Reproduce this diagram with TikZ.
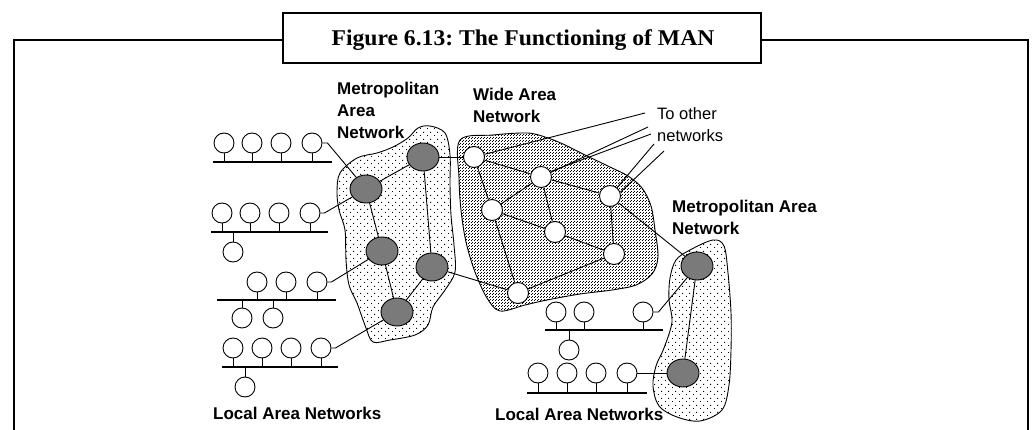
\documentclass[tikz,border=0pt]{standalone}
\usepackage{fontspec}
\newfontfamily\lblfont{Liberation Sans}
\newfontfamily\titlefont{Liberation Serif}[FakeStretch=1.05]
\usetikzlibrary{shapes.geometric,patterns.meta}
\frenchspacing
\tikzdeclarepattern{
  name=mandots, type=uncolored,
  bounding box={(0pt,0pt) and (7pt,7pt)},
  tile size={(7pt,7pt)},
  code={\fill (0pt,0pt) rectangle (1.1pt,1.1pt); \fill (3.5pt,3.5pt) rectangle (4.6pt,4.6pt);}
}
\tikzdeclarepattern{
  name=wandots, type=uncolored,
  bounding box={(0pt,0pt) and (3pt,3pt)},
  tile size={(3pt,3pt)},
  code={\fill (0pt,0pt) rectangle (1pt,1pt); \fill (1.5pt,1.5pt) rectangle (2.5pt,2.5pt);}
}
\begin{document}
\begin{tikzpicture}[x=1pt,y=-1pt,
  frameline/.style={line width=2.3pt},
  titlebox/.style={draw,line width=2.3pt,minimum width=478pt,minimum height=50pt,inner sep=0pt},
  titletxt/.style={font={\titlefont\bfseries\fontsize{22.5}{26}\selectfont},anchor=base,inner sep=0pt},
  lanpc/.style={circle,draw,fill=white,minimum size=20pt,inner sep=0pt,line width=0.9pt},
  wannode/.style={circle,draw,fill=white,minimum size=21pt,inner sep=0pt,line width=0.9pt},
  mannode/.style={ellipse,draw,fill=black!52,minimum width=32pt,minimum height=28pt,inner sep=0pt,line width=0.9pt},
  link/.style={line width=0.9pt},
  bus/.style={line width=2pt},
  lbl/.style={font={\lblfont\bfseries\fontsize{17}{22}\selectfont},anchor=base west,inner sep=0pt},
  lblreg/.style={font={\lblfont\fontsize{16.5}{22}\selectfont},anchor=base west,inner sep=0pt},
  manblob/.style={draw,line width=0.9pt,pattern=mandots},
  wanblob/.style={draw,line width=0.9pt,pattern=wandots}]
\useasboundingbox (0,0) rectangle (1032,430);

% frame and title
\node[titlebox] (title) at (522,38) {};
\node[titletxt] (titletext) at (523,46) {Figure 6.13: The Functioning of MAN};
\draw[frameline] (14,432) -- (14,40) -- (title.west |- 0,40);
\draw[frameline] (title.east |- 0,40) -- (1028,40) -- (1028,432);

% blobs
\draw[manblob] plot[smooth cycle,tension=0.55] coordinates {
  (430,126) (445,133) (450,155) (450,185) (451,215) (454,245) (455,272)
  (445,290) (433,307) (428,325) (415,335) (390,340) (373,342) (366,328)
  (357,303) (349,285) (346,260) (345,230) (339,210) (337,192) (340,173)
  (357,158) (377,153) (393,147) (408,138) (418,128)};
\draw[wanblob] plot[smooth cycle,tension=0.55] coordinates {
  (460,140) (493,135) (527,133) (545,137) (563,144) (585,155) (610,167)
  (628,176) (642,188) (651,206) (655,230) (658,257) (652,274) (636,285)
  (612,290) (580,294) (547,300) (525,305) (500,311) (487,298) (475,272)
  (466,242) (461,210) (459,178)};
\draw[manblob] plot[smooth cycle,tension=0.55] coordinates {
  (713,240) (724,246) (728,273) (731,313) (731,350) (729,385) (722,410)
  (700,421) (677,417) (659,406) (653,386) (656,366) (664,348) (672,322)
  (669,300) (670,278) (676,260) (690,250)};

% labels
\node[lbl] (m1a) at (337,95) {Metropolitan};
\node[lbl] (m1b) at (337,117) {Area};
\node[lbl] (m1c) at (337,139) {Network};
\node[lbl] (w1a) at (473,101) {Wide Area};
\node[lbl] (w1b) at (473,123) {Network};
\node[lblreg] (toa) at (657,120) {To other};
\node[lblreg] (tob) at (657,142) {networks};
\node[lbl] (m2a) at (672,213) {Metropolitan Area};
\node[lbl] (m2b) at (672,235) {Network};
\node[lbl] (lan1txt) at (213,419) {Local Area Networks};
\node[lbl] (lan2txt) at (495,420) {Local Area Networks};

% MAN nodes
\node[mannode] (A) at (366,189) {};
\node[mannode] (B) at (423,157) {};
\node[mannode] (C) at (382,251) {};
\node[mannode] (D) at (432,267) {};
\node[mannode] (E) at (397,312) {};
\node[mannode] (F) at (697,266) {};
\node[mannode] (G) at (683,373) {};

% WAN nodes
\node[wannode] (W1) at (474,157) {};
\node[wannode] (W2) at (541,177) {};
\node[wannode] (W3) at (492,210) {};
\node[wannode] (W4) at (610,196) {};
\node[wannode] (W5) at (555,232) {};
\node[wannode] (W6) at (614,254) {};
\node[wannode] (W7) at (518,293) {};

% links
\draw[link] (A) -- (B);
\draw[link] (A) -- (C);
\draw[link] (C) -- (E);
\draw[link] (B) -- (D);
\draw[link] (D) -- (E);
\draw[link] (B) -- (W1);
\draw[link] (D) -- (W7);
\draw[link] (W1) -- (W2);
\draw[link] (W1) -- (W3);
\draw[link] (W2) -- (W3);
\draw[link] (W2) -- (W4);
\draw[link] (W2) -- (W5);
\draw[link] (W3) -- (W5);
\draw[link] (W3) -- (W7);
\draw[link] (W4) -- (W6);
\draw[link] (W5) -- (W6);
\draw[link] (W6) -- (W7);
\draw[link] (W4) -- (F);
\draw[link] (F) -- (G);

% to other networks
\coordinate (t1) at (645,113);
\coordinate (t2) at (648,127);
\coordinate (t3) at (651,134);
\coordinate (t4) at (654,144);
\coordinate (t5) at (664,151);
\draw[link] (W1) -- (t1);
\draw[link] (W2) -- (t2);
\draw[link] (W2.30) -- (t3);
\draw[link] (W4) -- (t4);
\draw[link] (W4.20) -- (t5);

% LAN 1
\node[lanpc] (l11) at (224,143) {};
\node[lanpc] (l12) at (252,143) {};
\node[lanpc] (l13) at (281,143) {};
\node[lanpc] (l14) at (312,143) {};
\coordinate (b1l) at (213,162);
\coordinate (b1r) at (332,162);
\draw[bus] (b1l) -- (b1r);
\foreach \n in {l11,l12,l13,l14} \draw[link] (\n) -- (\n |- b1l);
\draw[link] (l14.east) -- ++(5,0) -- (A);

% LAN 2
\node[lanpc] (l21) at (222,213) {};
\node[lanpc] (l22) at (250,213) {};
\node[lanpc] (l23) at (279,213) {};
\node[lanpc] (l24) at (310,213) {};
\node[lanpc] (l25) at (233,252) {};
\coordinate (b2l) at (211,232);
\coordinate (b2r) at (328,232);
\draw[bus] (b2l) -- (b2r);
\foreach \n in {l21,l22,l23,l24,l25} \draw[link] (\n) -- (\n |- b2l);
\draw[link] (l24.east) -- ++(4,0) -- (A);

% LAN 3
\node[lanpc] (l31) at (257,282) {};
\node[lanpc] (l32) at (286,282) {};
\node[lanpc] (l33) at (317,282) {};
\node[lanpc] (l34) at (242,318) {};
\node[lanpc] (l35) at (273,318) {};
\coordinate (b3l) at (217,300);
\coordinate (b3r) at (336,300);
\draw[bus] (b3l) -- (b3r);
\foreach \n in {l31,l32,l33,l34,l35} \draw[link] (\n) -- (\n |- b3l);
\draw[link] (l33.east) -- ++(4,0) -- (C);

% LAN 4
\node[lanpc] (l41) at (233,348) {};
\node[lanpc] (l42) at (262,348) {};
\node[lanpc] (l43) at (291,348) {};
\node[lanpc] (l44) at (321,348) {};
\node[lanpc] (l45) at (245,387) {};
\coordinate (b4l) at (222,367);
\coordinate (b4r) at (338,367);
\draw[bus] (b4l) -- (b4r);
\foreach \n in {l41,l42,l43,l44,l45} \draw[link] (\n) -- (\n |- b4l);
\draw[link] (l44.east) -- ++(4,0) -- (E);

% LAN 5
\node[lanpc] (l51) at (556,312) {};
\node[lanpc] (l52) at (584,312) {};
\node[lanpc] (l53) at (643,312) {};
\node[lanpc] (l54) at (569,350) {};
\coordinate (b5l) at (545,330);
\coordinate (b5r) at (663,330);
\draw[bus] (b5l) -- (b5r);
\foreach \n in {l51,l52,l53,l54} \draw[link] (\n) -- (\n |- b5l);
\draw[link] (l53.east) -- ++(5,0) -- (F);

% LAN 6
\node[lanpc] (l61) at (538,373) {};
\node[lanpc] (l62) at (567,373) {};
\node[lanpc] (l63) at (596,373) {};
\node[lanpc] (l64) at (627,373) {};
\coordinate (b6l) at (527,393);
\coordinate (b6r) at (647,393);
\draw[bus] (b6l) -- (b6r);
\foreach \n in {l61,l62,l63,l64} \draw[link] (\n) -- (\n |- b6l);
\draw[link] (l64.east) -- (G);
\end{tikzpicture}
\end{document}
